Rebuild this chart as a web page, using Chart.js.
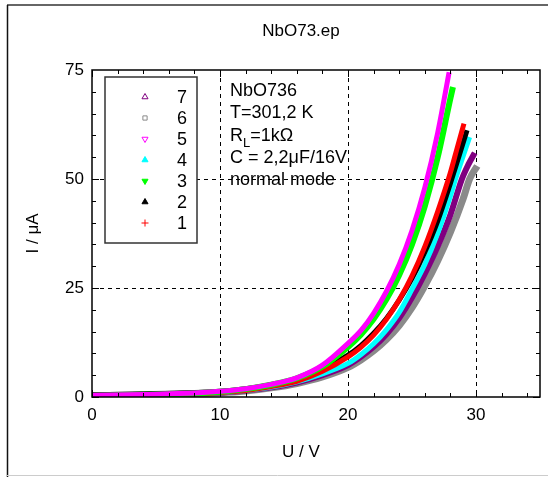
<!DOCTYPE html>
<html>
<head>
<meta charset="utf-8">
<script src="https://cdn.jsdelivr.net/npm/chart.js@4.4.1/dist/chart.umd.min.js"></script>
<style>
  html, body { margin: 0; padding: 0; background: #fff; }
  canvas { display: block; }
</style>
</head>
<body>
<canvas id="ivChart" width="548" height="477"></canvas>
<script>
// NbO73.ep - I/U Kennlinien, Messreihen 1..7

const titleText = 'NbO73.ep';
const xLabel = 'U / V';
const yLabel = 'I / \u03bcA';
const xMin = 0, xMax = 35, xStep = 10, xMinorStep = 2;
const yMin = 0, yMax = 75, yStep = 25, yMinorStep = 5;
const notes = ['NbO736', 'T=301,2 K', 'R|L|=1k\u03a9', 'C = 2,2\u03bcF/16V', 'normal mode'];

// Messreihen (U in V, I in uA)
const u1 = [0, 4, 8, 10, 12, 14, 16, 18, 20, 21, 22, 23, 24, 25, 26, 27, 28, 28.5, 29.06];
const i1 = [0.2, 0.4, 0.7, 1.0, 1.5, 2.4, 3.6, 5.9, 9.2, 11.4, 14.2, 17.8, 22.3, 27.8, 34.5, 42.5, 51.5, 56.8, 62.7];
const u2 = [0, 4, 8, 10, 12, 14, 16, 18, 20, 21, 22, 23, 24, 25, 26, 27, 28, 28.7, 29.3];
const i2 = [0.5, 0.7, 1.0, 1.3, 1.9, 2.8, 4.2, 6.5, 9.6, 11.8, 14.6, 18.0, 22.2, 27.2, 33.2, 40.3, 49.0, 55.5, 61.2];
const u3 = [0, 4, 8, 10, 12, 14, 16, 18, 20, 21, 22, 23, 24, 25, 26, 27, 28, 28.2];
const i3 = [0.3, 0.5, 0.8, 1.2, 1.8, 2.8, 4.3, 7.0, 11.5, 14.3, 17.9, 22.4, 28.0, 35.0, 43.8, 54.9, 68.5, 71.1];
const u4 = [0, 4, 8, 10, 12, 14, 16, 18, 20, 21, 22, 23, 24, 25, 26, 27, 28, 28.4, 29.0, 29.5];
const i4 = [0.3, 0.5, 0.8, 1.0, 1.5, 2.3, 3.5, 5.3, 7.7, 9.7, 12.2, 15.4, 19.4, 24.7, 30.4, 37.5, 46.1, 50, 55.3, 59.6];
const u5 = [0, 4, 8, 10, 12, 14, 16, 18, 20, 21, 22, 23, 24, 25, 26, 27, 27.9];
const i5 = [0.4, 0.6, 0.9, 1.3, 1.9, 2.9, 4.4, 7.3, 12.3, 15.2, 19.2, 24.2, 30.4, 38.2, 48.0, 60.5, 74.5];
const u6 = [0, 4, 8, 10, 12, 14, 16, 18, 20, 21, 22, 23, 24, 25, 26, 27, 28, 29, 29.5, 30.1];
const i6 = [0.3, 0.5, 0.8, 1.0, 1.4, 2.1, 3.1, 4.6, 6.8, 8.5, 10.6, 13.2, 16.4, 20.5, 25.5, 31.2, 37.8, 45.5, 50, 53];
const u7 = [0, 4, 8, 10, 12, 14, 16, 18, 20, 21, 22, 23, 24, 25, 26, 27, 28, 28.9, 29.4, 29.9];
const i7 = [0.3, 0.5, 0.8, 1.0, 1.5, 2.2, 3.3, 5.0, 7.3, 9.2, 11.5, 14.4, 18.1, 22.8, 28.3, 34.5, 41.8, 50, 53.3, 56];

// legend order top -> bottom, with marker style
const series = [
    { name: '7', u: u7, i: i7, color: '#800080', width: 6, marker: 'triangle', rot: 0, hollow: true },
    { name: '6', u: u6, i: i6, color: '#8a8a8a', width: 7, marker: 'rect', rot: 0, hollow: true },
    { name: '5', u: u5, i: i5, color: '#ff00ff', width: 5, marker: 'triangle', rot: 180, hollow: true },
    { name: '4', u: u4, i: i4, color: '#00ffff', width: 5, marker: 'triangle', rot: 0, hollow: false },
    { name: '3', u: u3, i: i3, color: '#00ff00', width: 6, marker: 'triangle', rot: 180, hollow: false },
    { name: '2', u: u2, i: i2, color: '#000000', width: 5, marker: 'triangle', rot: 0, hollow: false },
    { name: '1', u: u1, i: i1, color: '#ff0000', width: 5, marker: 'cross', rot: 0, hollow: false }
];
// first dataset is drawn on top
const drawOrder = ['5', '3', '1', '2', '4', '7', '6'];

const FONT = '"Liberation Sans", Arial, sans-serif';

const datasets = drawOrder.map(n => {
    const s = series.find(x => x.name === n);
    return {
        label: s.name,
        data: s.u.map((u, k) => ({ x: u, y: s.i[k] })),
        borderColor: s.color,
        backgroundColor: s.color,
        borderWidth: s.width,
        pointRadius: 0,
        cubicInterpolationMode: 'monotone',
        fill: false
    };
});

const gridColor = (max) => (c) => {
    if (!c.tick) return 'transparent';
    return (c.tick.value === 0 || c.tick.value === max) ? 'transparent' : '#000';
};

const decor = {
    id: 'decor',
    beforeDraw(chart) {
        const ctx = chart.ctx;
        ctx.save();
        ctx.fillStyle = '#fff';
        ctx.fillRect(0, 0, chart.width, chart.height);
        // Rahmen
        ctx.strokeStyle = '#666';
        ctx.lineWidth = 2;
        ctx.beginPath(); ctx.moveTo(7, 5); ctx.lineTo(chart.width, 5); ctx.stroke();
        ctx.strokeStyle = '#111';
        ctx.lineWidth = 1.5;
        ctx.beginPath(); ctx.moveTo(7.5, 5); ctx.lineTo(7.5, chart.height); ctx.stroke();
        ctx.strokeStyle = '#ccc';
        ctx.lineWidth = 1;
        ctx.beginPath(); ctx.moveTo(7, 475.5); ctx.lineTo(chart.width, 475.5); ctx.stroke();
        ctx.restore();
    },
    afterDraw(chart) {
        const ctx = chart.ctx;
        const a = chart.chartArea;
        const xs = chart.scales.x, ys = chart.scales.y;
        ctx.save();

        // plot frame
        ctx.strokeStyle = '#000';
        ctx.lineWidth = 1.5;
        ctx.strokeRect(a.left, a.top, a.right - a.left, a.bottom - a.top);

        // inward ticks on all four sides
        ctx.lineWidth = 1;
        ctx.beginPath();
        for (let v = xMin; v < xMax; v += xMinorStep) {
            const px = Math.round(xs.getPixelForValue(v)) + 0.5;
            const len = v % xStep === 0 ? 7 : 4;
            ctx.moveTo(px, a.bottom); ctx.lineTo(px, a.bottom - len);
            ctx.moveTo(px, a.top); ctx.lineTo(px, a.top + len);
        }
        for (let v = yMin; v < yMax; v += yMinorStep) {
            const py = Math.round(ys.getPixelForValue(v)) + 0.5;
            const len = v % yStep === 0 ? 7 : 4;
            ctx.moveTo(a.left, py); ctx.lineTo(a.left + len, py);
            ctx.moveTo(a.right, py); ctx.lineTo(a.right - len, py);
        }
        ctx.stroke();

        // title + x label
        ctx.fillStyle = '#000';
        ctx.textAlign = 'center';
        ctx.textBaseline = 'middle';
        ctx.font = '17px ' + FONT;
        ctx.fillText(titleText, 301, 31);
        ctx.font = '17px ' + FONT;
        ctx.fillText(xLabel, 301, 452);

        // legend box
        const lx = a.left + 13, ly = a.top + 7, lw = 92, lh = 166;
        ctx.fillStyle = '#fff';
        ctx.fillRect(lx, ly, lw, lh);
        ctx.strokeStyle = '#333';
        ctx.lineWidth = 1.5;
        ctx.strokeRect(lx, ly, lw, lh);
        ctx.font = '18px ' + FONT;
        ctx.textAlign = 'right';
        series.forEach((s, k) => {
            const cy = ly + 20 + k * 21;
            ctx.fillStyle = s.hollow ? '#fff' : s.color;
            ctx.strokeStyle = s.color;
            ctx.lineWidth = 1;
            Chart.helpers.drawPoint(ctx, {
                pointStyle: s.marker,
                radius: s.marker === 'rect' ? 3 : 3.5,
                rotation: s.rot,
                borderWidth: 1
            }, lx + 40, cy);
            ctx.fillStyle = '#000';
            ctx.fillText(s.name, lx + 82, cy + 1);
        });

        // annotation
        ctx.textAlign = 'left';
        ctx.textBaseline = 'alphabetic';
        const tx = a.left + 138;
        notes.forEach((line, k) => {
            const by = a.top + 26 + k * 22.3;
            const parts = line.split('|');
            let x = tx;
            parts.forEach((p, j) => {
                if (j === 1) {
                    ctx.font = '13px ' + FONT;
                    ctx.fillText(p, x, by + 6);
                } else {
                    ctx.font = '18px ' + FONT;
                    ctx.fillText(p, x, by);
                }
                x += ctx.measureText(p).width;
            });
            ctx.font = '18px ' + FONT;
        });
        ctx.restore();
    }
};

new Chart(document.getElementById('ivChart'), {
    type: 'line',
    data: { datasets: datasets },
    plugins: [decor],
    options: {
        responsive: false,
        animation: false,
        devicePixelRatio: 1,
        layout: { padding: { left: 0, right: 8, top: 70, bottom: 0 } },
        plugins: {
            legend: { display: false },
            title: { display: false },
            tooltip: { enabled: false }
        },
        scales: {
            x: {
                type: 'linear',
                min: xMin,
                max: xMax,
                ticks: {
                    stepSize: xStep,
                    color: '#000',
                    padding: 8,
                    font: { family: FONT, size: 17 },
                    maxRotation: 0
                },
                afterBuildTicks: s => { s.ticks = s.ticks.filter(t => t.value % xStep === 0); },
                afterFit: s => { s.height = 80; },
                grid: { color: gridColor(xMax), lineWidth: 1, drawTicks: false },
                border: { display: false, dash: [4, 4] }
            },
            y: {
                type: 'linear',
                min: yMin,
                max: yMax,
                ticks: {
                    stepSize: yStep,
                    color: '#000',
                    padding: 8,
                    font: { family: FONT, size: 17 }
                },
                afterFit: s => { s.width = 92; },
                title: {
                    display: true,
                    text: yLabel,
                    color: '#000',
                    font: { family: FONT, size: 17 },
                    padding: { top: 23, bottom: 0 }
                },
                grid: { color: gridColor(yMax), lineWidth: 1, drawTicks: false },
                border: { display: false, dash: [4, 4] }
            }
        }
    }
});
</script>
</body>
</html>
